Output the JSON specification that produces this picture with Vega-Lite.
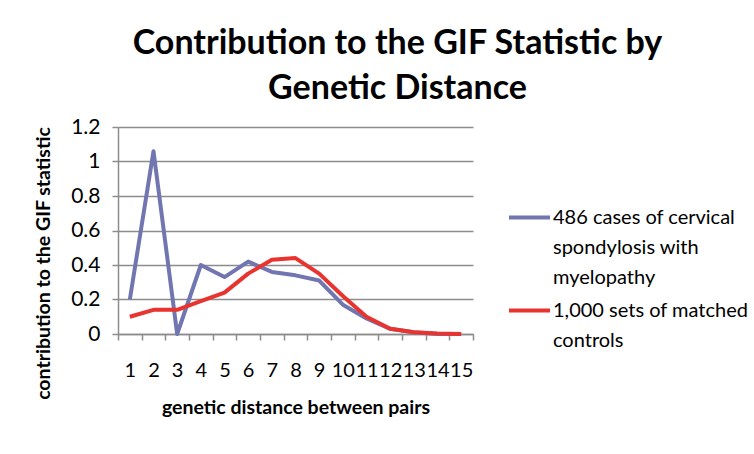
{
  "$schema": "https://vega.github.io/schema/vega-lite/v6.json",
  "width": 355,
  "height": 207,
  "autosize": {"type": "none"},
  "padding": {"left": 118, "top": 127, "right": 281, "bottom": 120},
  "background": "white",
  "title": {
    "text": ["Contribution to the GIF Statistic by", "Genetic Distance"],
    "font": "Lato",
    "fontSize": 34,
    "fontWeight": "bold",
    "color": "black",
    "anchor": "middle",
    "dx": 102,
    "lineHeight": 45,
    "offset": 10
  },
  "data": {
    "values": [
      {"d": "1", "s": "486 cases", "v": 0.20},
      {"d": "2", "s": "486 cases", "v": 1.06},
      {"d": "3", "s": "486 cases", "v": 0.00},
      {"d": "4", "s": "486 cases", "v": 0.40},
      {"d": "5", "s": "486 cases", "v": 0.33},
      {"d": "6", "s": "486 cases", "v": 0.42},
      {"d": "7", "s": "486 cases", "v": 0.36},
      {"d": "8", "s": "486 cases", "v": 0.34},
      {"d": "9", "s": "486 cases", "v": 0.31},
      {"d": "10", "s": "486 cases", "v": 0.17},
      {"d": "11", "s": "486 cases", "v": 0.09},
      {"d": "12", "s": "486 cases", "v": 0.03},
      {"d": "13", "s": "486 cases", "v": 0.01},
      {"d": "14", "s": "486 cases", "v": 0.00},
      {"d": "15", "s": "486 cases", "v": 0.00},
      {"d": "1", "s": "1,000 sets", "v": 0.10},
      {"d": "2", "s": "1,000 sets", "v": 0.14},
      {"d": "3", "s": "1,000 sets", "v": 0.14},
      {"d": "4", "s": "1,000 sets", "v": 0.19},
      {"d": "5", "s": "1,000 sets", "v": 0.24},
      {"d": "6", "s": "1,000 sets", "v": 0.35},
      {"d": "7", "s": "1,000 sets", "v": 0.43},
      {"d": "8", "s": "1,000 sets", "v": 0.44},
      {"d": "9", "s": "1,000 sets", "v": 0.35},
      {"d": "10", "s": "1,000 sets", "v": 0.22},
      {"d": "11", "s": "1,000 sets", "v": 0.10},
      {"d": "12", "s": "1,000 sets", "v": 0.03},
      {"d": "13", "s": "1,000 sets", "v": 0.01},
      {"d": "14", "s": "1,000 sets", "v": 0.003},
      {"d": "15", "s": "1,000 sets", "v": 0.00}
    ]
  },
  "mark": {"type": "line", "strokeWidth": 4, "strokeJoin": "round"},
  "encoding": {
    "x": {
      "field": "d",
      "type": "ordinal",
      "sort": null,
      "scale": {"paddingInner": 0, "paddingOuter": 0},
      "axis": {
        "title": "genetic distance between pairs",
        "labelAngle": 0,
        "tickBand": "extent",
        "grid": false,
        "domainColor": "#8c8c8c",
        "domainWidth": 1.5,
        "tickColor": "#8c8c8c",
        "tickWidth": 1.5,
        "tickSize": 6,
        "labelPadding": 20,
        "labelFontSize": 20,
        "labelFont": "Lato",
        "labelColor": "black",
        "titleFont": "Lato",
        "titleFontSize": 19.5,
        "titleFontWeight": "bold",
        "titleColor": "black",
        "titlePadding": 18
      }
    },
    "y": {
      "field": "v",
      "type": "quantitative",
      "scale": {"domain": [0, 1.2]},
      "axis": {
        "title": "contribution to the GIF statistic",
        "values": [0, 0.2, 0.4, 0.6, 0.8, 1, 1.2],
        "format": "~g",
        "gridColor": "#8c8c8c",
        "gridWidth": 1.5,
        "domainColor": "#8c8c8c",
        "domainWidth": 1.5,
        "tickColor": "#8c8c8c",
        "tickWidth": 1.5,
        "tickSize": 6,
        "labelPadding": 12,
        "labelFontSize": 21,
        "labelFont": "Lato",
        "labelColor": "black",
        "titleFont": "Lato",
        "titleFontSize": 19.5,
        "titleFontWeight": "bold",
        "titleColor": "black",
        "titleX": -65,
        "titleY": 136
      }
    },
    "color": {
      "field": "s",
      "type": "nominal",
      "scale": {"domain": ["486 cases", "1,000 sets"], "range": ["#7176b0", "#e8332f"]},
      "legend": {
        "title": null,
        "orient": "none",
        "legendX": 389,
        "legendY": 68,
        "symbolType": "stroke",
        "symbolStrokeWidth": 4,
        "symbolSize": 1681,
        "labelExpr": "datum.label == '486 cases' ? ['486 cases of cervical', 'spondylosis with', 'myelopathy'] : ['1,000 sets of matched', 'controls']",
        "labelFont": "Lato",
        "labelFontSize": 20,
        "labelColor": "black",
        "labelLimit": 300,
        "labelOffset": 1,
        "rowPadding": 0
      }
    }
  },
  "config": {
    "view": {"stroke": null},
    "style": {"guide-label": {"lineHeight": 30}}
  }
}
